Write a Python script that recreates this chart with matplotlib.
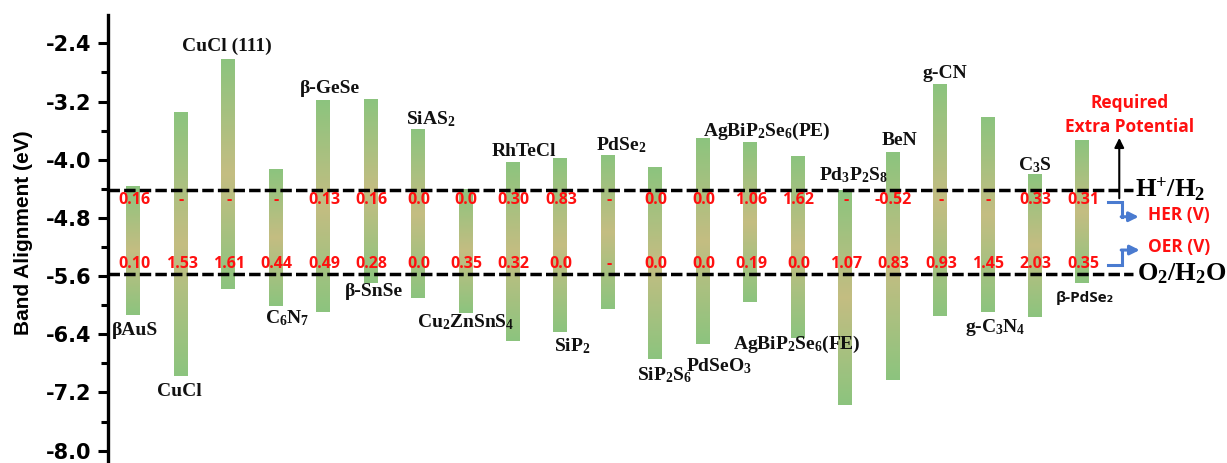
import numpy as np
import matplotlib.pyplot as plt
from matplotlib.colors import LinearSegmentedColormap
from matplotlib.ticker import MultipleLocator, FormatStrFormatter

plt.rcParams['mathtext.fontset'] = 'custom'
plt.rcParams['mathtext.rm'] = 'Liberation Serif:bold'
plt.rcParams['mathtext.it'] = 'Liberation Serif:bold:italic'
plt.rcParams['mathtext.bf'] = 'Liberation Serif:bold'

# materials, band edges (eV) and required extra potentials (V)
materials = ['βAuS', 'CuCl', 'CuCl (111)', r'C$_6$N$_7$', 'β-GeSe', 'β-SnSe',
             r'SiAS$_2$', r'Cu$_2$ZnSnS$_4$', 'RhTeCl', r'SiP$_2$', r'PdSe$_2$',
             r'SiP$_2$S$_6$', r'PdSeO$_3$', r'AgBiP$_2$Se$_6$(PE)',
             r'AgBiP$_2$Se$_6$(FE)', r'Pd$_3$P$_2$S$_8$', 'BeN', 'g-CN',
             r'g-C$_3$N$_4$', r'C$_3$S', 'β-PdSe₂']
cbm = [-4.37, -3.35, -2.63, -4.13, -3.18, -3.16, -3.58, -4.41, -4.04, -3.99, -3.94,
       -4.10, -3.72, -3.77, -3.95, -4.42, -3.90, -2.96, -3.41, -4.20, -3.73]
vbm = [-6.14, -6.98, -5.78, -6.01, -6.09, -5.69, -5.90, -6.11, -6.49, -6.37, -6.05,
       -6.74, -6.54, -5.96, -6.45, -7.37, -7.03, -6.15, -6.09, -6.16, -5.69]
her = ['0.16', '-', '-', '-', '0.13', '0.16', '0.0', '0.0', '0.30', '0.83', '-',
       '0.0', '0.0', '1.06', '1.62', '-', '-0.52', '-', '-', '0.33', '0.31']
oer = ['0.10', '1.53', '1.61', '0.44', '0.49', '0.28', '0.0', '0.35', '0.32', '0.0', '-',
       '0.0', '0.0', '0.19', '0.0', '1.07', '0.83', '0.93', '1.45', '2.03', '0.35']
h_level = -4.41   # H+/H2
o_level = -5.57   # O2/H2O

# label placement: side (t/b), dx, dy in pixels from bar end
lab_pos = [('b', 2, 15), ('b', -1, 15), ('t', -1, 14), ('b', 12, 12), ('t', 7, 12),
           ('b', 4, 9), ('t', 13, 10), ('b', 0, 9), ('t', 11, 11), ('b', 12, 14),
           ('t', 14, 10), ('b', 9, 16), ('b', 16, 22), ('t', 17, 12), ('b', -1, 7),
           ('t', 9, 15), ('t', 7, 12), ('t', 5, 11), ('b', 8, 16), ('t', 0, 9),
           ('b', 3, 15)]

red = '#ff1010'
num_font = 'Open Sans'

fig = plt.figure(figsize=(12.27, 4.63), dpi=100)
ax = fig.add_axes([108 / 1227, 0, 1 - 108 / 1227, 1 - 15 / 463])

cmap = LinearSegmentedColormap.from_list('bar', ['#8cc47e', '#c4bd82', '#8cc47e'])
grad = np.linspace(0, 1, 256).reshape(-1, 1)
w = 0.288
x = np.arange(len(materials))
for i in x:
    ax.imshow(grad, cmap=cmap, aspect='auto', interpolation='bilinear',
              extent=(i - w / 2, i + w / 2, vbm[i], cbm[i]), zorder=1)

xr = 21.07
for lev in (h_level, o_level):
    ax.plot([-0.53, xr], [lev, lev], color='black', lw=2.5,
            linestyle=(0, (3.3, 1.2)), zorder=3)

for i in x:
    side, dx, dy = lab_pos[i]
    if side == 't':
        xy, off = (i, cbm[i]), (dx, dy)
    else:
        xy, off = (i, vbm[i]), (dx, -dy)
    if i == len(materials) - 1:
        ax.annotate(materials[i], xy=xy, xytext=off, textcoords='offset pixels',
                    ha='center', va='center', fontsize=11, fontweight='bold',
                    family=[num_font, 'DejaVu Sans'], color='#111111', zorder=4)
    else:
        ax.annotate(materials[i], xy=xy, xytext=off, textcoords='offset pixels',
                    ha='center', va='center', fontsize=14, fontweight='bold',
                    family='Liberation Serif', color='#111111', zorder=4)
    ax.annotate(her[i], xy=(i, h_level), xytext=(1, -10), textcoords='offset pixels',
                ha='center', va='center', fontsize=11.5, fontweight='bold',
                family=num_font, color=red, zorder=5)
    ax.annotate(oer[i], xy=(i, o_level), xytext=(1, 10), textcoords='offset pixels',
                ha='center', va='center', fontsize=11.5, fontweight='bold',
                family=num_font, color=red, zorder=5)

# right side annotations
ax.text(21.11, h_level, r'H$^{+}$/H$_2$', ha='left', va='center', fontsize=19,
        fontweight='bold', family='Liberation Serif')
ax.text(21.15, o_level, r'O$_2$/H$_2$O', ha='left', va='center', fontsize=19,
        fontweight='bold', family='Liberation Serif')
ax.annotate('', xy=(20.78, h_level + 0.71), xytext=(20.78, h_level - 0.12),
            arrowprops=dict(arrowstyle='-|>', color='black', lw=1.5,
                            mutation_scale=14, shrinkA=0, shrinkB=0))
ax.text(21.0, -3.385, 'Required\nExtra Potential', ha='center', va='center',
        fontsize=12.5, fontweight='bold', family=num_font, color=red,
        linespacing=1.4)

blue = '#4a7bd0'
ax.plot([20.54, 20.83, 20.83], [-4.578, -4.578, -4.784], color=blue, lw=2.2,
        solid_joinstyle='miter')
ax.annotate('', xy=(21.19, -4.784), xytext=(20.82, -4.784),
            arrowprops=dict(arrowstyle='-|>', color=blue, lw=2.2,
                            mutation_scale=14, shrinkA=0, shrinkB=0))
ax.plot([20.54, 20.83, 20.83], [-5.448, -5.448, -5.242], color=blue, lw=2.2,
        solid_joinstyle='miter')
ax.annotate('', xy=(21.21, -5.242), xytext=(20.82, -5.242),
            arrowprops=dict(arrowstyle='-|>', color=blue, lw=2.2,
                            mutation_scale=14, shrinkA=0, shrinkB=0))
ax.text(21.38, -4.76, 'HER (V)', ha='left', va='center', fontsize=12.5,
        fontweight='bold', family=num_font, color=red)
ax.text(21.38, -5.20, 'OER (V)', ha='left', va='center', fontsize=12.5,
        fontweight='bold', family=num_font, color=red)

ax.set_xlim(-0.53, 23.05)
ax.set_ylim(-8.17, -2.01)
for s in ('top', 'right', 'bottom'):
    ax.spines[s].set_visible(False)
ax.spines['left'].set_linewidth(2.4)
ax.set_xticks([])
ax.yaxis.set_major_locator(MultipleLocator(0.8))
ax.yaxis.set_minor_locator(MultipleLocator(0.4))
ax.yaxis.set_major_formatter(FormatStrFormatter('%.1f'))
ax.tick_params(axis='y', which='major', length=7.2, width=2.2, pad=4.5)
ax.tick_params(axis='y', which='minor', length=4.8, width=2.2)
for lab in ax.get_yticklabels():
    lab.set_fontsize(15)
    lab.set_fontweight('bold')
    lab.set_family('DejaVu Sans')
ax.set_ylabel('Band Alignment (eV)', fontsize=15, fontweight='bold',
              family='Liberation Sans')
ax.yaxis.set_label_coords(-0.067, 0.513)

fig.savefig('out.png', dpi=100)
